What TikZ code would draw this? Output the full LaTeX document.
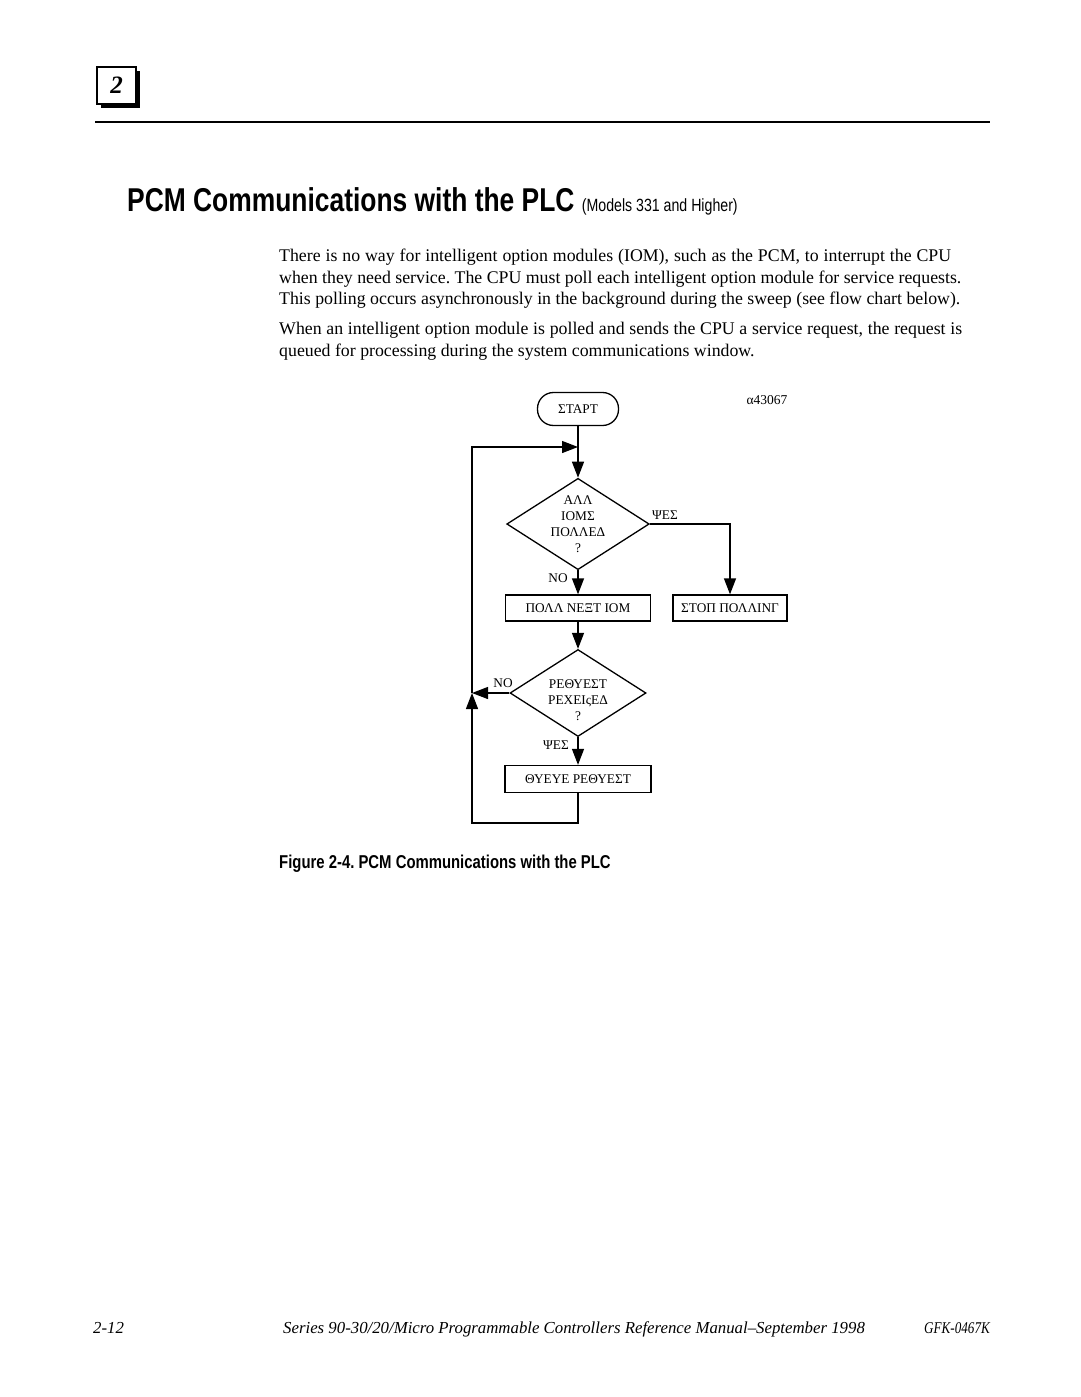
\documentclass[tikz,border=0pt]{standalone}
\usepackage{fontspec}
\setmainfont{Liberation Serif}
\newfontfamily\headfont[FakeStretch=0.8]{Liberation Sans}
\newfontfamily\docfont[FakeStretch=0.8]{Liberation Serif}
\usetikzlibrary{shapes.geometric,arrows.meta}

\newcommand*{\chartfont}{\fontsize{13.3}{15.8}\selectfont}
\newcommand*{\bodyfont}{\fontsize{17.8}{21.7}\selectfont}
\frenchspacing

\tikzset{
    terminator/.style={draw, rounded corners=16pt, minimum width=81pt, minimum height=33pt, font=\chartfont},
    decision/.style={draw, diamond, aspect=1.56, minimum width=136pt, minimum height=87pt, inner sep=0pt, align=center, font=\chartfont},
    process/.style={draw, minimum height=26pt, inner sep=0pt, font=\chartfont},
    flow/.style={-{Triangle[length=16pt,width=12pt]}},
    bodyline/.style={anchor=base west, inner sep=0pt, font=\bodyfont},
}

\begin{document}
\begin{tikzpicture}[x=1pt, y=-1pt]
    \useasboundingbox[fill=white] (0,0) rectangle (1080,1397);

    % chapter tab and rule
    \fill (101,71) rectangle (140,108);
    \node[draw, fill=white, line width=1.2pt, minimum width=39pt, minimum height=37pt, inner sep=0pt] (chapbox) at (116.5,85.5)
        {\fontsize{25}{25}\selectfont\bfseries\itshape 2};
    \draw[line width=2pt] (95,122) -- (990,122);

    % heading
    \node[anchor=base west, inner sep=0pt] (title) at (127,211)
        {\headfont\bfseries\fontsize{33}{36}\selectfont PCM Communications with the PLC
         \mdseries\fontsize{17.7}{20}\selectfont (Models 331 and Higher)};

    % body text
    \node[bodyline] (body1) at (279,261) {\makebox[672pt][s]{There is no way for intelligent option modules (IOM), such as the PCM, to interrupt the CPU}};
    \node[bodyline] (body2) at (279,283) {when they need service. The CPU must poll each intelligent option module for service requests.};
    \node[bodyline] (body3) at (279,304) {This polling occurs asynchronously in the background during the sweep (see flow chart below).};
    \node[bodyline] (body4) at (279,334) {\makebox[683pt][s]{When an intelligent option module is polled and sends the CPU a service request, the request is}};
    \node[bodyline] (body5) at (279,356) {queued for processing during the system communications window.};

    % flow chart
    \begin{scope}[line width=1.3pt]
        \node[font=\fontsize{13.5}{15}\selectfont] (figno) at (767,400) {α43067};

        \node[terminator] (start) at (578,409) {ΣΤΑΡΤ};
        \node[decision] (q1) at (578,524) {ΑΛΛ\\ΙΟΜΣ\\ΠΟΛΛΕΔ\\?};
        \node[process, minimum width=145pt] (pollnext) at (578,608) {ΠΟΛΛ ΝΕΞΤ ΙΟΜ};
        \node[process, minimum width=114pt] (stoppoll) at (730,608) {ΣΤΟΠ ΠΟΛΛΙΝΓ};
        \node[decision] (q2) at (578,693) {};
        \node[font=\chartfont, align=center] (q2text) at (578,700) {ΡΕΘΥΕΣΤ\\ΡΕΧΕΙςΕΔ\\?};
        \node[process, minimum width=146pt, minimum height=27pt] (queue) at (578,779) {ΘΥΕΥΕ ΡΕΘΥΕΣΤ};

        \coordinate (merge) at (578,447);
        \coordinate (loopjoin) at (472,693);
        \coordinate (loopbot) at (472,823);

        \draw[flow] (start.south) -- (q1.north);
        \draw[flow] (q1.east) -| (stoppoll.north);
        \draw[flow] (q1.south) -- (pollnext.north);
        \draw[flow] (pollnext.south) -- (q2.north);
        \draw[flow] (q2.west) -- (loopjoin);
        \draw[flow] (q2.south) -- (queue.north);
        \draw[flow] (queue.south) |- (loopbot) -- (loopjoin);
        \draw[flow] (loopjoin) |- (merge);

        \node[font=\chartfont] (yes1) at (665,515) {ΨΕΣ};
        \node[font=\chartfont] (no1) at (558,578) {ΝΟ};
        \node[font=\chartfont] (no2) at (503,683) {ΝΟ};
        \node[font=\chartfont] (yes2) at (556,745) {ΨΕΣ};
    \end{scope}

    % caption
    \node[anchor=base west, inner sep=0pt] (caption) at (279,868)
        {\headfont\bfseries\fontsize{18.6}{20}\selectfont Figure 2-4. PCM Communications with the PLC};

    % footer
    \node[anchor=base west, inner sep=0pt] (pageno) at (93,1333) {\itshape\fontsize{16.8}{18}\selectfont 2-12};
    \node[anchor=base west, inner sep=0pt] (manual) at (283,1333)
        {\itshape\fontsize{16.8}{18}\selectfont Series 90-30/20/Micro Programmable Controllers Reference Manual–September 1998};
    \node[anchor=base east, inner sep=0pt] (docno) at (990,1333) {\docfont\itshape\fontsize{16.4}{18}\selectfont GFK-0467K};
\end{tikzpicture}
\end{document}
